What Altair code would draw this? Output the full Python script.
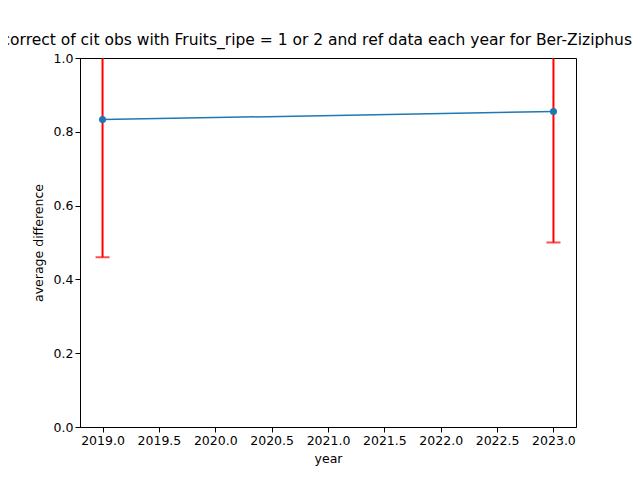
import altair as alt
import pandas as pd

years = [2019, 2023]
avg_diff = [0.833, 0.855]
err_low = [0.46, 0.50]
err_high = [1.206, 1.21]

df = pd.DataFrame({"year": years, "avg": avg_diff, "lo": err_low, "hi": err_high})

font = "DejaVu Sans"
x = alt.X("year:Q", scale=alt.Scale(domain=[2018.8, 2023.2], nice=False, zero=False),
          axis=alt.Axis(values=[2019 + 0.5 * i for i in range(9)], format=".1f",
                        title="year", grid=False, tickColor="black", domainColor="black",
                        labelColor="black", labelFontSize=12.5, titleFontSize=12.5,
                        titleFontWeight="normal", labelFont=font, titleFont=font,
                        titlePadding=6))
y_scale = alt.Scale(domain=[0, 1], nice=False)
y_axis = alt.Axis(values=[0, 0.2, 0.4, 0.6, 0.8, 1.0], format=".1f", title="average difference",
                  grid=False, tickColor="black", domainColor="black", labelColor="black",
                  labelFontSize=12.5, titleFontSize=12.5, titleFontWeight="normal",
                  labelFont=font, titleFont=font, titlePadding=8)

base = alt.Chart(df)
bars = base.mark_rule(color="red", strokeWidth=2, clip=True).encode(
    x=x, y=alt.Y("lo:Q", scale=y_scale, axis=y_axis), y2="hi:Q")
caps = base.mark_tick(color="red", thickness=2, size=14, orient="horizontal", clip=True).encode(
    x="year:Q", y="lo:Q")
line = base.mark_line(color="#1f77b4", strokeWidth=1.5).encode(x="year:Q", y="avg:Q")
pts = base.mark_circle(color="#1f77b4", size=50, opacity=1).encode(x="year:Q", y="avg:Q")

chart = (bars + caps + line + pts).properties(
    width=496, height=369,
    title=alt.TitleParams(
        "Fraction correct of cit obs with Fruits_ripe = 1 or 2 and ref data each year for Ber-Ziziphus mauritiana",
        fontSize=15.5, fontWeight="normal", font=font, color="black", anchor="middle", offset=4),
    padding={"left": 72, "top": 50, "right": 56, "bottom": 45},
    autosize=alt.AutoSizeParams(type="none"),
).configure_view(stroke="black", strokeWidth=1)

chart.save("out.html", embed_options={"renderer": "svg", "actions": False})
